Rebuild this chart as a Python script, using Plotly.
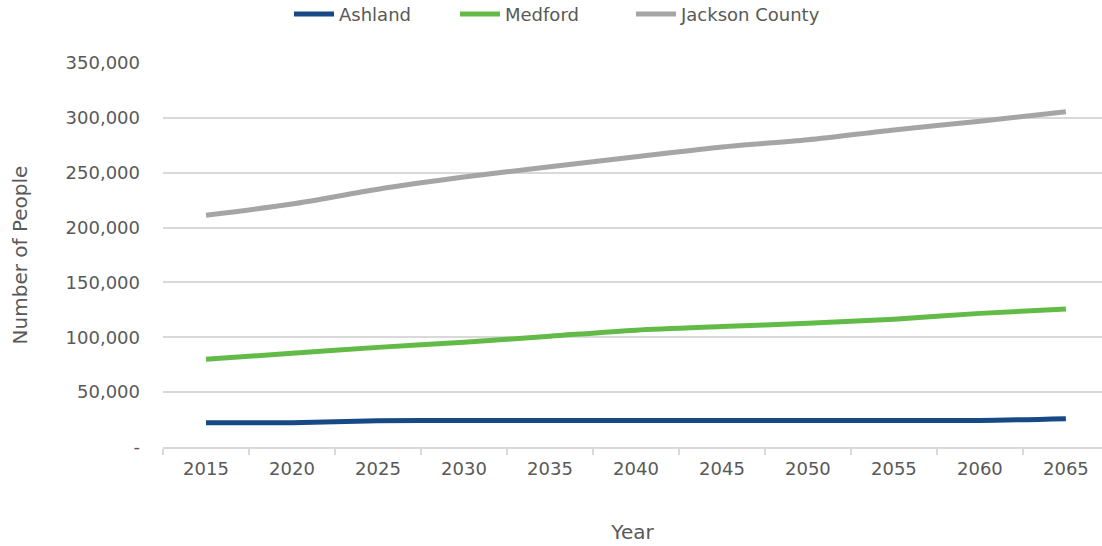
import plotly.graph_objects as go

years = ["2015", "2020", "2025", "2030", "2035", "2040", "2045", "2050", "2055", "2060", "2065"]
ashland = [22000, 22200, 24000, 24100, 24100, 24100, 24100, 24100, 24100, 24200, 25800]
medford = [80000, 85400, 90800, 95500, 101000, 106500, 109800, 112800, 116500, 121800, 125800]
jackson = [211300, 221500, 235000, 246000, 255500, 264500, 273500, 280000, 289000, 297000, 305500]

y_tickvals = [0, 50000, 100000, 150000, 200000, 250000, 300000, 350000]
y_ticktext = ["-", "50,000", "100,000", "150,000", "200,000", "250,000", "300,000", "350,000"]

FONT = "DejaVu Sans"
TXT = "#595959"
GRID = "#d9d9d9"

L, W = 163, 939  # plot left edge and width in px

series = [
    ("Ashland", ashland, "#174a85", "legend", 289),
    ("Medford", medford, "#62bb46", "legend2", 455),
    ("Jackson County", jackson, "#a5a5a5", "legend3", 631),
]

fig = go.Figure()
legends = {}
for name, vals, col, leg, px in series:
    fig.add_trace(go.Scatter(
        x=years, y=vals, name=name, mode="lines", legend=leg,
        line=dict(color=col, width=5, shape="spline", smoothing=0.8),
    ))
    legends[leg] = dict(orientation="h", x=(px - L) / W, xanchor="left",
                        yref="container", y=0.974, yanchor="middle",
                        font=dict(size=18, color=TXT), itemwidth=40,
                        bgcolor="rgba(0,0,0,0)")

fig.update_layout(
    width=1102, height=546,
    margin=dict(l=L, r=0, t=63, b=99, autoexpand=False),
    paper_bgcolor="white", plot_bgcolor="white",
    font=dict(family=FONT, color=TXT, size=18),
    showlegend=True,
    **legends,
)
fig.update_xaxes(
    type="category", range=[-0.5, 10.42],
    tickson="boundaries", ticks="outside", ticklen=6, tickcolor=GRID, tickwidth=1.5,
    showline=True, linecolor=GRID, linewidth=1.5, showgrid=False,
    ticklabelstandoff=5,
    tickfont=dict(size=18, color=TXT),
    title=dict(text="Year", font=dict(size=20, color=TXT), standoff=47),
)
fig.update_yaxes(
    range=[0, 350000], tickvals=y_tickvals, ticktext=y_ticktext,
    showgrid=True, gridcolor=GRID, gridwidth=1.5, zeroline=False, showline=False,
    ticks="", ticklabelstandoff=22,
    tickfont=dict(size=18, color=TXT),
    title=dict(text="Number of People", font=dict(size=20, color=TXT), standoff=32),
)

fig.write_html("out.html")
